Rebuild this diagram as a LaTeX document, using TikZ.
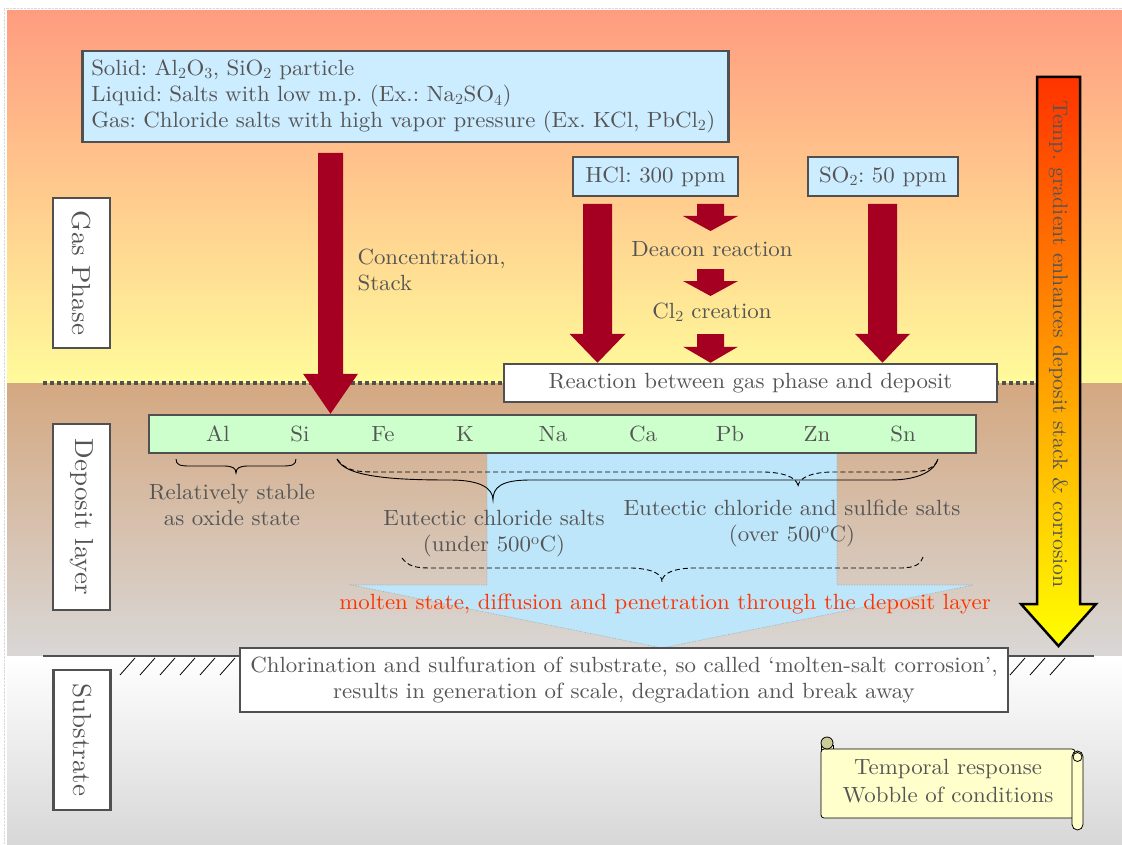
\documentclass[tikz,border=0pt]{standalone}
\usepackage{fontspec}
\setmainfont{lmroman10-regular.otf}[FakeStretch=1.04]
\usepackage{tikz}
\usetikzlibrary{positioning, calc}
\definecolor{txtgray}{HTML}{555555}
\definecolor{boxgray}{HTML}{505050}
\definecolor{skyfill}{HTML}{CCECFF}
\definecolor{mintfill}{HTML}{CCFFCC}
\definecolor{darkred}{HTML}{A50021}
\definecolor{moltenblue}{HTML}{BEE6FA}
\definecolor{moltenedge}{HTML}{9AA8B0}
\definecolor{moltenred}{HTML}{FF3300}
\definecolor{scrollfill}{HTML}{FFFFCC}
\definecolor{curlfill}{HTML}{CCCC99}
\definecolor{gastop}{HTML}{FF9C80}
\definecolor{gasbot}{HTML}{FFFB9B}
\definecolor{deptop}{HTML}{D4A881}
\definecolor{depbot}{HTML}{D9D7D6}
\definecolor{subbot}{HTML}{D7D7D7}
\definecolor{hotred}{HTML}{FF3300}
\definecolor{hotyellow}{HTML}{FFFF00}
\frenchspacing

% block arrow between two named points: start, tip, half shaft, half head, head length
\newcommand{\blockarrow}[5]{%
  \fill[darkred] let \p1=(#1), \p2=(#2) in
    (\x1-#3,\y1) -- (\x1+#3,\y1) -- (\x1+#3,\y2+#5) -- (\x1+#4,\y2+#5)
    -- (\x1,\y2) -- (\x1-#4,\y2+#5) -- (\x1-#3,\y2+#5) -- cycle;}

\begin{document}
\begin{tikzpicture}[x=1pt, y=-1pt,
  font=\fontsize{22}{26}\selectfont,
  every node/.style={text=txtgray},
  framed/.style={draw=boxgray, line width=2.5pt, inner sep=0pt},
  infobox/.style={framed, fill=skyfill},
  whitebox/.style={framed, fill=white},
  layerbox/.style={whitebox, rotate=-90, font=\fontsize{26}{30}\selectfont, minimum height=57pt},
  brace/.style={line width=0.9pt, black},
  dbrace/.style={brace, dash pattern=on 5pt off 3pt},
  hatch/.style={line width=0.8pt, black}
]
  \useasboundingbox (0,0) rectangle (1122,845);

  % ── layers ─────────────────────────────────────────────────────────────
  \shade[top color=gastop, bottom color=gasbot] (7,11) rectangle (1122,383);
  \shade[top color=deptop, bottom color=depbot] (7,383) rectangle (1122,656);
  \shade[top color=white, bottom color=subbot] (7,656) rectangle (1122,845);
  \draw[black!15, densely dotted] (4,845) -- (4,8) -- (1122,8);

  \draw[boxgray, line width=4pt, dash pattern=on 4pt off 3pt] (43,383) -- (1037,383);
  \draw[boxgray, line width=2.5pt] (43,656) -- (1094,656);
  \foreach \hx in {120,140,...,220,1010,1030,1050}
    \draw[hatch] (\hx,675) -- ++(15,-17);

  % ── molten salt penetration ────────────────────────────────────────────
  \draw[moltenedge, fill=moltenblue, densely dotted, line width=0.6pt]
    (487,453) -- (837,453) -- (837,585) -- (973,585) -- (662,648)
    -- (352,585) -- (487,585) -- cycle;

  % ── layer labels ───────────────────────────────────────────────────────
  \node[layerbox, minimum width=150pt] (gas)  at (81.5,273) {Gas Phase};
  \node[layerbox, minimum width=186pt] (dep)  at (81.5,517) {Deposit layer};
  \node[layerbox, minimum width=140pt] (subs) at (82,740)   {Substrate};

  % ── gas phase ──────────────────────────────────────────────────────────
  \node[infobox, anchor=north west, minimum width=646pt, minimum height=91pt,
        text width=628pt, inner xsep=9pt, align=left] (mix) at (81,50)
    {Solid: Al\textsubscript{2}O\textsubscript{3}, SiO\textsubscript{2} particle\\
     Liquid: Salts with low m.p. (Ex.: Na\textsubscript{2}SO\textsubscript{4})\\
     Gas: Chloride salts with high vapor pressure (Ex. KCl, PbCl\textsubscript{2})};
  \node[infobox, minimum width=165pt, minimum height=39pt] (hcl) at (655.5,176.5) {HCl: 300 ppm};
  \node[infobox, minimum width=150pt, minimum height=39pt] (so2) at (883,176.5) {SO\textsubscript{2}: 50 ppm};
  \node[whitebox, minimum width=493pt, minimum height=38pt] (react) at (750.5,383)
    {Reaction between gas phase and deposit};

  \node[align=left, anchor=west] (stack) at (354,270) {Concentration,\\Stack};
  \node (deacon) at (712,249) {Deacon reaction};
  \node (cl2)    at (712,312) {Cl\textsubscript{2} creation};

  % ── deposit layer ──────────────────────────────────────────────────────
  \node[framed, fill=mintfill, minimum width=827pt, minimum height=38pt] (elem) at (562.5,434) {};
  \foreach \el/\ex in {Al/218, Si/300, Fe/383, K/465, Na/553, Ca/643, Pb/730, Zn/817, Sn/903}
    \node (\el) at (\ex,434) {\el};

  % ── arrows ─────────────────────────────────────────────────────────────
  \coordinate (stacktop) at (330.5,153);
  \coordinate (hcltop)   at (597.5,204);
  \coordinate (so2top)   at (882.5,204);
  \coordinate (dc1) at (710.5,204);
  \coordinate (dc2) at (710.5,231);
  \coordinate (dc3) at (710.5,269);
  \coordinate (dc4) at (710.5,296);
  \coordinate (dc5) at (710.5,334);
  \blockarrow{stacktop}{elem.north -| stacktop}{12.5pt}{27.5pt}{40pt}
  \blockarrow{hcltop}{react.north -| hcltop}{14.5pt}{28pt}{29pt}
  \blockarrow{so2top}{react.north -| so2top}{14.5pt}{27.5pt}{29pt}
  \blockarrow{dc1}{dc2}{13.5pt}{27.5pt}{15pt}
  \blockarrow{dc3}{dc4}{13.5pt}{27.5pt}{15pt}
  \blockarrow{dc5}{react.north -| dc5}{13.5pt}{27.5pt}{16pt}

  % ── braces ─────────────────────────────────────────────────────────────
  \draw[brace] (176,459) .. controls (176,465) and (180,466) .. (190,466) -- (224,466)
    .. controls (232,466) and (236,468) .. (236,473)
    .. controls (236,468) and (240,466) .. (248,466) -- (282,466)
    .. controls (292,466) and (296,465) .. (296,459);
  \draw[brace] (337,459) .. controls (345,478) and (400,480) .. (450,480)
    .. controls (480,480) and (493,488) .. (493,500)
    .. controls (493,488) and (500,480) .. (530,480) -- (890,480)
    .. controls (920,480) and (935,470) .. (938,459);
  \draw[dbrace] (337,459) .. controls (345,470) and (355,472) .. (375,472) -- (765,472)
    .. controls (790,473) and (798,480) .. (798,487)
    .. controls (798,480) and (806,473) .. (830,472) -- (910,472)
    .. controls (925,472) and (935,468) .. (938,459);
  \draw[dbrace] (402,558) .. controls (408,566) and (415,568) .. (430,568) -- (632,568)
    .. controls (655,569) and (662,575) .. (662,582)
    .. controls (662,575) and (669,569) .. (692,568) -- (900,568)
    .. controls (915,568) and (921,564) .. (923,557);

  \node[align=center] (oxide) at (232,505) {Relatively stable\\as oxide state};
  \node[align=center] (under) at (494,534) {Eutectic chloride salts\\(under 500\textsuperscript{o}C)};
  \node[align=center] (over)  at (792,523) {Eutectic chloride and sulfide salts\\(over 500\textsuperscript{o}C)};
  \node[text=moltenred] (molten) at (665,604)
    {molten state, diffusion and penetration through the deposit layer};

  % ── substrate ──────────────────────────────────────────────────────────
  \node[whitebox, minimum width=768pt, minimum height=64pt, align=center] (chlor) at (624,680)
    {Chlorination and sulfuration of substrate, so called `molten-salt corrosion',\\
     results in generation of scale, degradation and break away};

  % ── temperature gradient ───────────────────────────────────────────────
  \draw[line width=2.5pt, top color=hotred, bottom color=hotyellow]
    (1037,77) -- (1080,77) -- (1080,604) -- (1096,604) -- (1058.5,646)
    -- (1021,604) -- (1037,604) -- cycle;
  \node[rotate=-90, font=\fontsize{21}{26}\selectfont] (grad) at (1058.5,344)
    {Temp. gradient enhances deposit stack \& corrosion};

  % ── scroll ─────────────────────────────────────────────────────────────
  \draw[fill=scrollfill, line width=0.8pt] (821,745) rectangle (833,752);
  \draw[fill=scrollfill, line width=0.8pt, rounded corners=3pt] (821,749) rectangle (1075,818);
  \draw[fill=curlfill, line width=0.8pt] (827,743) circle (6pt);
  \draw[fill=scrollfill, line width=0.8pt, rounded corners=5.5pt] (1072,751) rectangle (1083,830);
  \draw[fill=scrollfill, line width=0.8pt] (1077.5,757) circle (4.5pt);
  \node[align=center, font=\fontsize{22}{28}\selectfont] (wobble) at (948,781)
    {Temporal response\\Wobble of conditions};
\end{tikzpicture}
\end{document}
